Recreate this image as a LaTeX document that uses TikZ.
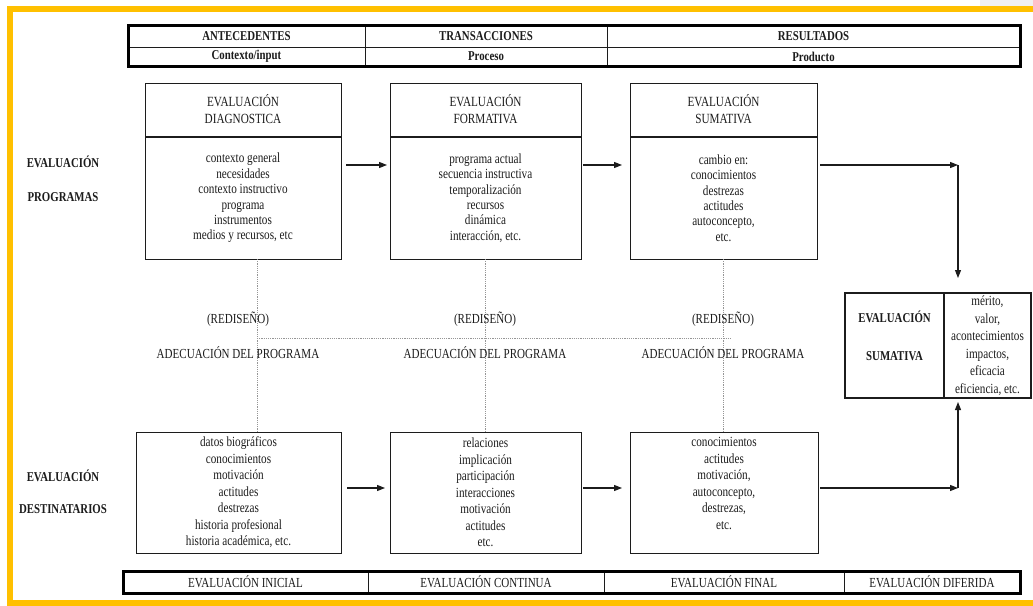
\documentclass[tikz,border=0pt]{standalone}
\usepackage{fontspec}
\setmainfont{Liberation Serif}[FakeStretch=0.8]
\usetikzlibrary{arrows.meta}
\definecolor{frameyellow}{RGB}{255,192,0}
\definecolor{ink}{RGB}{28,28,28}
\definecolor{guide}{RGB}{150,150,150}
\definecolor{corner}{RGB}{240,240,240}
\begin{document}
\begin{tikzpicture}[x=1pt,y=-1pt,
  every node/.style={inner sep=0pt, outer sep=0pt, text=ink},
  size/.style 2 args={minimum width=#1, minimum height=#2},
  headcell/.style={draw=ink, line width=0.8pt, align=center,
    font=\bfseries\fontsize{13.5}{14}\selectfont},
  footcell/.style={draw=ink, line width=0.8pt, align=center,
    font=\fontsize{13.8}{14}\selectfont},
  boxhead/.style={draw=ink, line width=0.9pt, align=center,
    font=\fontsize{14}{17}\selectfont},
  boxbody/.style={draw=ink, line width=0.9pt, align=center,
    font=\fontsize{14}{15.4}\selectfont},
  boxlow/.style={draw=ink, line width=0.9pt, align=center,
    font=\fontsize{14}{16.5}\selectfont},
  lowtext/.style={align=center, font=\fontsize{14}{16.5}\selectfont},
  rowlabel/.style={font=\bfseries\fontsize{13.5}{14}\selectfont},
  midtext/.style={font=\fontsize{13.8}{14}\selectfont},
  sumbox/.style={draw=ink, line width=1.3pt, align=center,
    font=\fontsize{14}{17.5}\selectfont},
  sumtext/.style={align=center, font=\bfseries\fontsize{13.5}{38}\selectfont},
  guideline/.style={draw=guide, line width=0.7pt, dash pattern=on 1.2pt off 1pt},
  arr/.style={draw=ink, line width=1.1pt, -{Triangle[length=8pt,width=6pt]}},
  thickframe/.style={draw=black, line width=3pt}
]
% page and yellow frame
\clip (0,0) rectangle (1033,605);
\fill[white] (0,0) rectangle (1033,605);
\fill[corner] (980,0) rectangle (1033,6);
\draw[frameyellow, line width=6pt] (1045,9) -- (10,9) -- (10,603) -- (1045,603);

% top header table
\node[headcell, size={237pt}{22pt}] (hA) at (246.5,36) {ANTECEDENTES};
\node[headcell, size={242pt}{22pt}] (hT) at (486,36) {TRANSACCIONES};
\node[headcell, size={413pt}{22pt}] (hR) at (813.5,36) {RESULTADOS};
\node[headcell, size={237pt}{19pt}] (sA) at (246.5,56.5) {Contexto/input};
\node[headcell, size={242pt}{19pt}] (sT) at (486,56.5) {Proceso};
\node[headcell, size={413pt}{19pt}] (sR0) at (813.5,56.5) {Producto};
\draw[thickframe] (hA.north west) rectangle (sR0.south east);

% row labels
\node[rowlabel] (lp1) at (63,162) {EVALUACIÓN};
\node[rowlabel] (lp2) at (63,197) {PROGRAMAS};
\node[rowlabel] (ld1) at (63,476) {EVALUACIÓN};
\node[rowlabel] (ld2) at (63,509) {DESTINATARIOS};

% programme evaluation boxes
\node[boxhead, size={196pt}{53pt}] (b1h) at (243,109.5) {EVALUACIÓN\\DIAGNOSTICA};
\node[boxbody, size={196pt}{122pt}] (b1b) at (243,198) {contexto general\\necesidades\\contexto instructivo\\programa\\instrumentos\\medios y recursos, etc};
\node[boxhead, size={191pt}{53pt}] (b2h) at (485.5,109.5) {EVALUACIÓN\\FORMATIVA};
\node[boxbody, size={191pt}{122pt}] (b2b) at (485.5,198) {programa actual\\secuencia instructiva\\temporalización\\recursos\\dinámica\\interacción, etc.};
\node[boxhead, size={187pt}{53pt}] (b3h) at (723.5,109.5) {EVALUACIÓN\\SUMATIVA};
\node[boxbody, size={187pt}{122pt}] (b3b) at (723.5,198) {cambio en:\\conocimientos\\destrezas\\actitudes\\autoconcepto,\\etc.};

% participant evaluation boxes
\node[boxlow, size={205pt}{121pt}] (b4) at (238.5,492.5) {datos biográficos\\conocimientos\\motivación\\actitudes\\destrezas\\historia profesional\\historia académica, etc.};
\node[boxlow, size={191pt}{121pt}] (b5) at (485.5,492.5) {relaciones\\implicación\\participación\\interacciones\\motivación\\actitudes\\etc.};
\node[boxlow, size={188pt}{121pt}] (b6) at (724,492.5) {};
\node[lowtext] (b6t) at ([yshift=9pt]b6.center) {conocimientos\\actitudes\\motivación,\\autoconcepto,\\destrezas,\\etc.};

% redesign links
\coordinate (g1) at (257,338);
\coordinate (g2) at (485,338);
\coordinate (g3) at (723,338);
\coordinate (gend) at (731,338);
\draw[guideline] (b1b.south -| g1) -- (b4.north -| g1);
\draw[guideline] (b2b.south -| g2) -- (b5.north -| g2);
\draw[guideline] (b3b.south -| g3) -- (b6.north -| g3);
\draw[guideline] (g1) -- (gend);
\node[midtext] (r1) at (238,319) {(REDISEÑO)};
\node[midtext] (r2) at (485,319) {(REDISEÑO)};
\node[midtext] (r3) at (723,319) {(REDISEÑO)};
\node[midtext] (m1) at (238,353) {ADECUACIÓN DEL PROGRAMA};
\node[midtext] (m2) at (485,353) {ADECUACIÓN DEL PROGRAMA};
\node[midtext] (m3) at (723,353) {ADECUACIÓN DEL PROGRAMA};

% summative evaluation box
\node[sumbox, size={99pt}{105pt}] (sL) at (894.5,345.5) {};
\node[sumtext] (sLt) at ([yshift=10pt]sL.center) {EVALUACIÓN\\SUMATIVA};
\node[sumbox, size={87pt}{105pt}] (sR) at (987.5,345.5) {mérito,\\valor,\\acontecimientos\\impactos,\\eficacia\\eficiencia, etc.};

% flow arrows
\coordinate (ra) at (0,165);
\coordinate (rb) at (0,488);
\coordinate (ca) at (958,165);
\coordinate (cb) at (958,488);
\draw[arr, shorten <=5pt, shorten >=3pt] (b1b.east |- ra) -- (b2b.west |- ra);
\draw[arr, shorten <=2pt, shorten >=8pt] (b2b.east |- ra) -- (b3b.west |- ra);
\draw[arr, shorten <=3pt] (b3b.east |- ra) -- (ca);
\draw[arr, shorten >=15pt] (ca) -- (sR.north -| ca);
\draw[arr, shorten <=6pt, shorten >=5pt] (b4.east |- rb) -- (b5.west |- rb);
\draw[arr, shorten <=2pt, shorten >=8pt] (b5.east |- rb) -- (b6.west |- rb);
\draw[arr, shorten <=2pt] (b6.east |- rb) -- (cb);
\draw[arr, shorten >=4pt] (cb) -- (sR.south -| cb);

% bottom timeline table
\node[footcell, size={245pt}{22pt}] (eI) at (245.5,582) {EVALUACIÓN INICIAL};
\node[footcell, size={236pt}{22pt}] (eC) at (486,582) {EVALUACIÓN CONTINUA};
\node[footcell, size={240pt}{22pt}] (eF) at (724,582) {EVALUACIÓN FINAL};
\node[footcell, size={176pt}{22pt}] (eD) at (932,582) {EVALUACIÓN DIFERIDA};
\draw[thickframe] (eI.north west) rectangle (eD.south east);
\end{tikzpicture}
\end{document}
